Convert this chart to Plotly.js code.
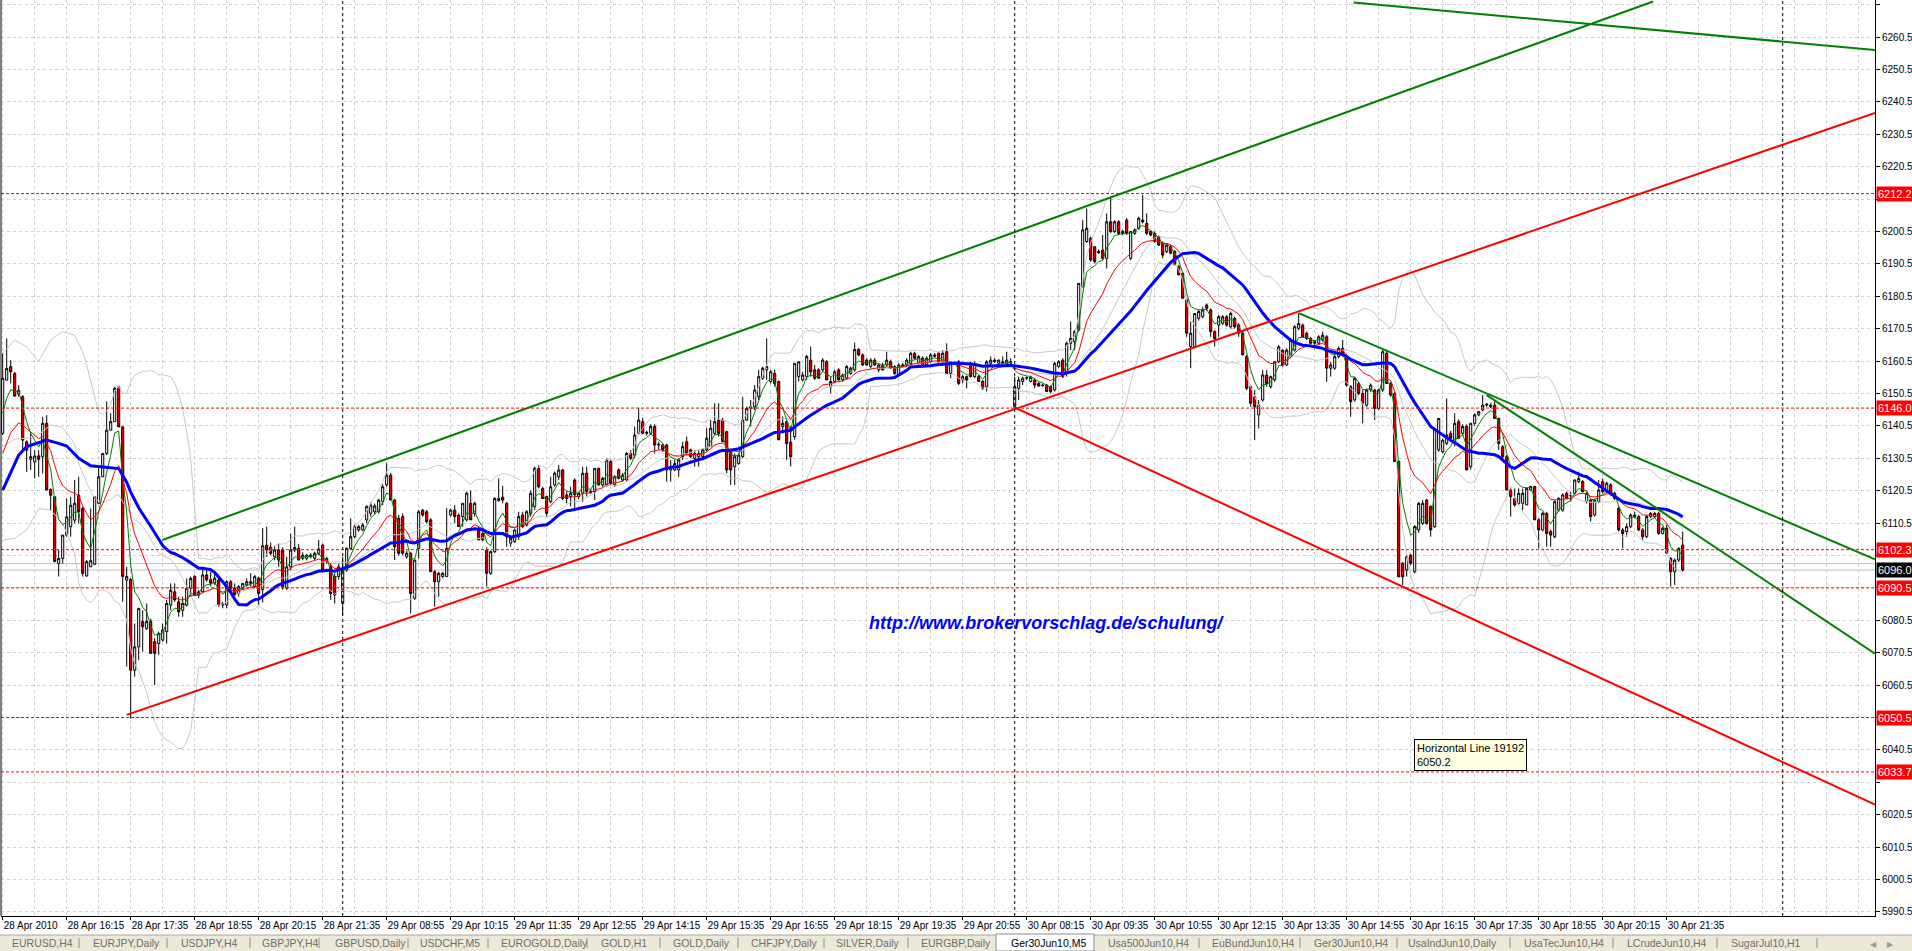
<!DOCTYPE html>
<html><head><meta charset="utf-8">
<script src="https://cdn.plot.ly/plotly-3.0.1.min.js"></script>
<style>html,body{margin:0;padding:0;background:#fff;overflow:hidden}#chart{width:1912px;height:951px}</style>
</head><body><div id="chart"></div>
<script>
// ---------------- DATA ----------------
const timeLabels = ["28 Apr 2010","28 Apr 16:15","28 Apr 17:35","28 Apr 18:55","28 Apr 20:15","28 Apr 21:35",
 "29 Apr 08:55","29 Apr 10:15","29 Apr 11:35","29 Apr 12:55","29 Apr 14:15","29 Apr 15:35","29 Apr 16:55",
 "29 Apr 18:15","29 Apr 19:35","29 Apr 20:55","30 Apr 08:15","30 Apr 09:35","30 Apr 10:55","30 Apr 12:15",
 "30 Apr 13:35","30 Apr 14:55","30 Apr 16:15","30 Apr 17:35","30 Apr 18:55","30 Apr 20:15","30 Apr 21:35"];
const barsPerLabel = 16;

const openP = [
6138.2,6154.6,6158.8,6156.7,6150.3,6149.5,6135.6,6130.2,6129.4,6131.3,
6131.0,6141.3,6120.9,6118.6,6098.0,6099.6,6106.8,6109.4,6111.4,6119.1,
6115.0,6094.2,6097.0,6097.8,6116.6,6124.8,6132.0,6139.2,6141.8,6152.6,
6140.2,6092.9,6093.1,6065.1,6072.3,6080.1,6078.0,6080.1,6073.9,6073.3,
6074.4,6077.0,6085.2,6089.3,6086.2,6083.6,6085.2,6090.4,6094.0,6088.3,
6089.3,6094.5,6093.0,6092.0,6092.9,6085.2,6085.2,6092.4,6090.4,6088.8,
6090.4,6091.4,6091.9,6090.9,6093.5,6090.0,6103.7,6103.0,6100.1,6102.2,
6102.2,6090.4,6097.0,6102.2,6102.7,6099.6,6099.6,6100.6,6099.6,6101.2,
6103.7,6098.6,6097.0,6094.0,6094.0,6085.7,6096.0,6102.7,6106.3,6108.4,
6108.4,6111.5,6113.5,6114.0,6114.0,6117.1,6122.3,6125.3,6117.6,6112.0,
6112.5,6100.1,6101.2,6087.3,6102.7,6114.5,6114.0,6111.5,6095.5,6092.4,
6094.0,6094.0,6113.0,6114.5,6113.0,6112.5,6111.5,6116.6,6113.5,6108.4,
6107.3,6102.2,6095.0,6101.7,6117.4,6118.5,6116.6,6104.3,6104.8,6106.3,
6113.0,6109.9,6113.5,6115.6,6127.4,6121.2,6118.7,6117.1,6122.3,6124.8,
6126.9,6119.2,6118.7,6123.8,6118.7,6119.7,6125.9,6120.2,6120.2,6127.4,
6122.3,6122.3,6129.5,6122.3,6126.9,6123.8,6123.8,6132.0,6131.5,6138.2,
6141.8,6138.2,6138.2,6140.3,6134.6,6134.6,6134.6,6126.9,6126.9,6126.9,
6131.0,6135.6,6133.1,6130.5,6131.0,6131.0,6133.1,6134.1,6138.2,6142.3,
6142.3,6138.7,6133.1,6127.9,6128.9,6131.0,6142.3,6145.9,6146.4,6149.5,
6155.2,6157.8,6154.2,6156.7,6154.2,6140.3,6141.8,6135.5,6137.2,6155.7,
6154.7,6155.7,6160.8,6157.8,6157.8,6157.8,6160.3,6152.6,6154.2,6157.8,
6154.7,6155.2,6156.7,6157.8,6164.1,6162.4,6160.8,6158.8,6160.8,6157.8,
6159.3,6159.3,6160.3,6158.8,6156.2,6159.0,6159.3,6159.8,6162.9,6159.8,
6161.4,6159.3,6160.3,6162.4,6162.9,6160.3,6163.4,6156.7,6159.8,6160.3,
6154.7,6155.7,6159.8,6155.7,6155.7,6154.2,6152.6,6159.8,6160.3,6159.8,
6160.3,6159.6,6160.0,6146.4,6152.1,6154.2,6155.2,6154.2,6154.7,6153.6,
6153.1,6153.1,6152.6,6151.6,6158.8,6160.8,6156.7,6166.0,6166.5,6170.1,
6183.5,6197.4,6198.4,6195.8,6194.3,6194.8,6192.2,6203.5,6200.5,6203.5,
6199.9,6204.0,6192.2,6199.9,6201.5,6204.0,6203.0,6200.5,6199.9,6198.9,
6196.9,6194.3,6195.8,6194.3,6189.6,6187.6,6179.4,6165.0,6165.0,6173.7,
6174.2,6177.8,6176.3,6169.6,6171.6,6172.2,6174.2,6171.1,6173.7,6171.6,
6169.1,6161.9,6152.6,6149.5,6143.9,6148.5,6156.2,6152.6,6154.7,6160.3,
6163.9,6159.3,6161.9,6163.9,6170.6,6171.6,6169.1,6167.5,6166.5,6166.0,
6167.0,6168.0,6158.3,6158.3,6161.9,6164.4,6161.9,6152.6,6148.5,6153.6,
6150.5,6146.9,6151.6,6151.6,6145.9,6151.6,6162.9,6153.6,6150.5,6129.5,
6098.1,6096.0,6100.6,6095.5,6108.4,6110.4,6117.6,6115.6,6109.4,6133.1,
6132.5,6135.1,6138.2,6135.1,6141.8,6138.2,6140.3,6127.9,6141.3,6143.9,
6145.4,6146.9,6146.4,6146.9,6142.8,6134.1,6131.0,6120.7,6118.1,6116.6,
6116.6,6116.1,6120.7,6121.8,6111.5,6108.4,6113.5,6107.9,6106.3,6114.5,
6114.5,6119.7,6118.9,6119.7,6123.3,6123.3,6117.1,6117.6,6113.0,6117.1,
6123.3,6120.2,6122.3,6119.7,6115.0,6108.4,6107.9,6109.4,6112.5,6112.5,
6108.4,6106.3,6112.5,6112.5,6113.5,6107.3,6108.9,6099.6,6095.5,6099.1,
6103.7];

const highP = [
6162.9,6167.5,6160.8,6157.2,6153.1,6150.0,6136.0,6138.2,6133.0,6133.0,
6143.3,6143.8,6121.2,6118.8,6102.2,6106.8,6118.1,6118.6,6123.8,6124.8,
6115.5,6099.1,6115.0,6118.6,6127.9,6132.0,6148.0,6144.4,6152.6,6152.9,
6140.2,6097.0,6093.5,6079.5,6084.2,6083.6,6085.7,6081.0,6075.0,6077.0,
6079.5,6086.8,6091.9,6091.9,6087.8,6087.8,6093.4,6094.0,6094.5,6089.8,
6097.0,6096.0,6095.5,6095.5,6094.0,6086.2,6092.9,6093.0,6091.9,6091.4,
6092.0,6093.4,6095.0,6094.5,6093.9,6109.0,6109.4,6104.5,6103.5,6104.2,
6103.0,6100.1,6107.3,6109.4,6104.0,6101.5,6101.0,6101.2,6101.7,6105.3,
6104.2,6100.1,6098.1,6095.0,6098.0,6100.1,6103.0,6112.0,6110.0,6110.0,
6110.5,6116.0,6117.0,6116.5,6118.0,6122.5,6129.0,6126.0,6118.0,6113.0,
6113.5,6102.0,6101.5,6099.1,6114.5,6114.8,6114.5,6112.0,6096.0,6095.5,
6095.5,6115.1,6115.0,6116.1,6113.5,6116.6,6120.2,6120.5,6117.1,6109.5,
6108.0,6103.0,6102.0,6118.5,6124.3,6122.0,6117.0,6106.3,6108.9,6114.0,
6114.0,6114.5,6120.5,6127.9,6128.4,6121.7,6119.0,6124.8,6126.4,6128.4,
6127.2,6120.2,6121.7,6124.3,6120.2,6127.9,6127.9,6121.0,6127.4,6127.6,
6124.8,6130.5,6130.0,6125.3,6127.4,6126.0,6132.5,6133.0,6140.3,6146.1,
6143.0,6139.0,6141.0,6141.0,6135.6,6135.0,6135.0,6130.0,6130.0,6130.5,
6135.6,6137.2,6133.5,6133.1,6133.1,6133.5,6139.8,6142.3,6147.5,6147.5,
6143.0,6139.0,6133.5,6132.0,6132.0,6149.5,6146.4,6148.5,6153.1,6157.8,
6158.8,6167.5,6157.8,6157.8,6154.5,6143.4,6142.0,6140.5,6159.8,6160.3,
6157.2,6162.4,6165.0,6159.3,6158.3,6161.4,6160.8,6155.7,6157.8,6158.3,
6156.7,6159.3,6158.8,6166.2,6164.5,6162.9,6161.4,6161.4,6161.4,6159.8,
6160.0,6163.4,6161.0,6159.3,6159.8,6160.0,6161.4,6163.4,6163.4,6162.4,
6162.0,6162.0,6163.0,6163.0,6163.4,6163.9,6166.0,6160.3,6160.3,6160.8,
6156.2,6156.0,6160.3,6160.3,6156.2,6154.7,6160.8,6161.9,6161.4,6161.0,
6161.9,6163.4,6161.4,6155.7,6155.7,6155.7,6155.7,6156.0,6155.2,6154.0,
6153.6,6153.5,6153.0,6160.3,6160.8,6161.4,6166.5,6172.7,6170.1,6184.5,
6204.0,6207.6,6198.9,6196.0,6195.0,6199.4,6206.1,6211.3,6204.0,6204.0,
6201.0,6204.6,6200.5,6201.5,6205.1,6211.8,6206.1,6201.0,6200.5,6199.4,
6197.4,6196.9,6196.3,6194.8,6190.2,6188.0,6179.9,6172.7,6175.2,6176.3,
6177.3,6178.3,6176.8,6170.1,6174.7,6174.7,6174.7,6175.8,6174.2,6172.2,
6169.6,6162.4,6153.0,6151.6,6148.5,6157.8,6157.8,6156.0,6160.3,6165.5,
6164.0,6164.5,6167.5,6171.6,6175.2,6172.1,6169.6,6168.0,6167.0,6168.5,
6169.6,6168.5,6160.3,6162.4,6165.0,6167.0,6162.4,6153.1,6155.7,6154.1,
6151.6,6152.0,6153.6,6152.0,6152.0,6164.0,6164.0,6154.1,6151.0,6130.0,
6098.5,6100.6,6101.0,6109.9,6117.0,6117.6,6118.0,6116.0,6140.0,6142.8,
6136.5,6149.0,6139.0,6144.4,6142.5,6141.0,6141.0,6141.3,6144.4,6145.0,
6150.0,6147.5,6147.5,6148.5,6143.0,6134.6,6131.5,6121.2,6121.2,6121.2,
6121.2,6121.2,6122.0,6122.0,6112.0,6114.0,6114.0,6108.5,6117.6,6118.5,
6119.7,6120.2,6120.2,6124.0,6126.4,6123.8,6120.2,6118.0,6118.0,6123.8,
6124.3,6123.3,6122.8,6120.2,6115.6,6109.0,6110.4,6113.5,6114.0,6113.0,
6109.0,6113.0,6114.0,6114.0,6114.0,6109.4,6110.0,6100.0,6099.6,6103.0,
6107.9];

const lowP = [
6137.7,6154.6,6153.6,6149.5,6149.5,6133.0,6126.3,6126.9,6124.3,6124.8,
6125.8,6120.7,6114.5,6098.6,6094.0,6098.0,6106.3,6106.3,6110.4,6110.4,
6094.0,6094.0,6097.0,6097.5,6116.6,6124.8,6131.5,6139.2,6141.8,6140.2,
6086.2,6066.2,6050.2,6063.1,6068.2,6070.8,6077.5,6070.3,6060.5,6069.8,
6073.9,6073.3,6083.6,6086.2,6081.6,6081.6,6084.7,6087.8,6088.3,6087.3,
6088.8,6092.4,6090.9,6091.4,6084.7,6084.2,6084.2,6090.0,6087.8,6087.8,
6089.8,6091.0,6090.9,6090.4,6085.2,6086.0,6100.1,6100.5,6099.0,6097.0,
6089.9,6089.9,6096.0,6101.5,6099.1,6099.0,6099.0,6099.6,6099.0,6100.6,
6096.0,6098.0,6086.8,6085.7,6093.0,6082.1,6095.5,6102.2,6105.8,6107.8,
6108.0,6110.5,6112.5,6113.0,6113.5,6116.0,6121.7,6117.6,6099.1,6100.5,
6100.5,6099.5,6082.6,6086.8,6099.6,6112.5,6110.4,6095.5,6084.7,6087.8,
6093.5,6094.0,6112.5,6110.4,6109.4,6109.4,6111.0,6111.5,6112.5,6105.3,
6105.0,6090.9,6094.5,6101.2,6117.1,6116.6,6103.2,6103.2,6104.3,6105.3,
6108.9,6109.4,6112.5,6114.5,6121.2,6118.0,6112.5,6116.6,6121.7,6123.8,
6117.6,6116.6,6115.6,6115.1,6118.0,6117.1,6118.7,6119.5,6117.6,6122.0,
6121.7,6121.7,6122.3,6121.7,6124.0,6123.3,6123.3,6130.0,6130.5,6137.7,
6138.0,6137.5,6137.7,6132.0,6133.1,6132.5,6123.3,6123.3,6126.5,6124.8,
6130.0,6131.5,6130.5,6127.9,6127.9,6130.5,6132.5,6134.1,6137.7,6137.2,
6135.6,6125.9,6122.3,6122.3,6128.5,6130.5,6142.0,6140.3,6145.4,6148.5,
6154.7,6154.7,6153.6,6152.6,6136.2,6138.2,6130.0,6128.0,6136.2,6154.2,
6154.2,6154.7,6155.7,6154.7,6155.0,6157.2,6154.7,6150.6,6153.6,6154.5,
6154.2,6154.7,6156.2,6157.2,6162.0,6159.0,6159.0,6158.3,6159.0,6157.0,
6157.5,6158.8,6158.0,6156.2,6155.7,6158.5,6158.8,6158.8,6161.0,6159.3,
6158.5,6158.8,6159.8,6161.5,6159.3,6159.8,6156.7,6155.2,6159.3,6153.1,
6153.6,6152.1,6155.5,6155.2,6154.0,6151.6,6151.1,6159.3,6160.0,6159.5,
6158.8,6158.8,6158.8,6145.4,6148.5,6153.1,6154.7,6154.0,6152.1,6152.6,
6152.6,6151.1,6150.5,6151.1,6158.5,6155.2,6155.7,6163.9,6163.9,6169.6,
6183.0,6197.0,6191.2,6190.7,6193.5,6191.7,6189.1,6200.0,6200.0,6199.4,
6199.4,6199.4,6191.7,6199.4,6201.0,6203.0,6199.4,6199.0,6197.0,6196.0,
6192.2,6193.8,6193.5,6190.2,6187.1,6179.9,6168.0,6158.3,6164.5,6173.0,
6173.7,6176.0,6168.0,6165.0,6168.0,6171.6,6171.1,6170.5,6170.5,6168.0,
6162.4,6151.5,6146.4,6136.1,6139.7,6148.0,6152.6,6152.0,6154.1,6159.8,
6158.8,6159.0,6161.4,6163.4,6170.0,6168.0,6167.0,6165.5,6165.5,6165.5,
6166.5,6154.1,6155.7,6157.8,6161.4,6161.9,6152.6,6143.3,6148.0,6150.0,
6141.3,6146.4,6151.0,6142.3,6145.4,6151.0,6153.6,6149.5,6129.5,6093.9,
6091.4,6094.0,6097.5,6095.0,6107.5,6109.9,6110.0,6106.3,6109.0,6132.5,
6132.0,6134.5,6136.0,6134.1,6136.7,6137.5,6126.9,6127.0,6140.5,6143.5,
6145.0,6146.4,6146.0,6142.8,6133.1,6130.0,6120.7,6112.5,6115.6,6116.1,
6114.5,6116.1,6120.5,6111.5,6102.7,6107.9,6103.2,6103.2,6105.8,6114.0,
6114.0,6118.0,6117.1,6119.2,6122.8,6120.0,6116.6,6111.0,6112.5,6116.6,
6119.7,6119.7,6119.0,6117.6,6107.9,6102.7,6106.3,6108.9,6112.0,6108.0,
6105.3,6105.8,6112.0,6112.0,6106.8,6107.0,6101.2,6090.9,6091.4,6098.5,
6095.5];

const closeP = [
6155.2,6158.2,6157.2,6149.7,6151.5,6136.1,6133.0,6131.0,6131.2,6130.2,
6141.3,6120.7,6119.1,6098.6,6099.6,6106.8,6112.4,6116.0,6116.6,6114.0,
6095.0,6098.6,6098.9,6118.6,6124.8,6132.0,6139.2,6141.8,6152.1,6140.2,
6094.0,6094.0,6065.1,6072.3,6084.2,6078.5,6080.1,6070.3,6070.3,6076.4,
6077.5,6085.7,6089.8,6086.8,6083.1,6085.7,6090.4,6093.4,6088.3,6089.3,
6094.5,6093.0,6092.0,6093.5,6085.2,6085.7,6092.4,6090.4,6088.3,6090.9,
6091.9,6092.4,6092.4,6094.0,6088.8,6103.5,6102.2,6101.2,6102.2,6099.1,
6090.9,6097.0,6102.2,6103.0,6099.1,6100.6,6100.6,6100.1,6101.2,6102.5,
6096.0,6099.6,6088.8,6088.3,6097.0,6096.0,6102.7,6106.3,6109.4,6109.4,
6109.9,6115.6,6116.1,6115.8,6117.6,6121.7,6125.3,6117.6,6103.2,6101.2,
6101.2,6101.2,6088.8,6099.1,6114.0,6113.0,6110.9,6095.5,6092.4,6095.0,
6095.0,6102.7,6114.5,6112.5,6109.4,6116.6,6119.7,6111.5,6116.6,6105.3,
6105.3,6095.0,6101.7,6118.1,6118.1,6117.6,6106.3,6105.8,6108.4,6112.5,
6109.4,6114.0,6119.7,6127.4,6121.7,6118.1,6113.5,6121.7,6125.9,6126.9,
6118.1,6118.1,6119.7,6119.2,6119.7,6125.9,6120.2,6120.0,6127.4,6122.3,
6124.3,6130.0,6122.8,6124.8,6124.3,6125.3,6132.0,6130.5,6137.7,6142.3,
6138.2,6138.5,6140.3,6134.6,6134.8,6133.1,6126.9,6127.9,6128.9,6130.0,
6134.1,6132.0,6131.0,6132.0,6132.0,6133.1,6136.7,6139.8,6141.8,6138.2,
6135.6,6126.9,6126.9,6131.0,6131.5,6142.3,6145.9,6146.4,6151.6,6155.7,
6158.3,6158.8,6157.2,6153.6,6136.2,6141.3,6135.0,6131.0,6159.8,6160.3,
6156.2,6161.9,6157.2,6155.2,6155.2,6160.8,6154.7,6154.2,6157.2,6154.7,
6156.2,6158.8,6158.3,6164.1,6162.4,6159.3,6159.3,6160.8,6159.3,6159.3,
6157.8,6160.8,6158.3,6156.7,6159.3,6159.3,6160.8,6162.9,6161.4,6161.9,
6158.8,6161.4,6162.4,6162.0,6159.8,6162.9,6156.7,6159.8,6160.0,6153.6,
6155.7,6154.7,6155.7,6159.8,6154.2,6152.1,6160.3,6160.8,6160.8,6160.8,
6160.0,6160.8,6160.3,6152.6,6154.7,6155.2,6155.4,6155.5,6153.1,6152.8,
6153.0,6151.1,6151.1,6159.8,6160.3,6155.7,6166.0,6167.5,6169.6,6184.5,
6201.0,6201.5,6191.7,6191.2,6194.0,6192.2,6203.5,6200.5,6203.5,6199.9,
6200.5,6199.9,6200.5,6201.0,6204.6,6203.5,6199.9,6199.4,6197.4,6196.3,
6193.2,6196.3,6193.8,6190.2,6187.1,6179.9,6169.1,6169.1,6175.2,6175.8,
6176.3,6176.8,6169.6,6167.5,6174.2,6174.2,6171.6,6175.2,6171.1,6169.1,
6162.4,6152.1,6147.5,6146.4,6146.9,6156.2,6153.6,6155.7,6160.3,6164.9,
6159.3,6163.9,6167.0,6171.1,6172.1,6168.0,6167.5,6166.0,6166.0,6168.0,
6168.5,6158.3,6159.3,6161.9,6164.4,6162.4,6153.1,6148.0,6155.2,6150.5,
6147.5,6151.6,6153.1,6145.9,6151.6,6163.4,6153.6,6150.0,6129.5,6093.9,
6093.9,6100.1,6098.1,6109.4,6116.6,6116.6,6110.4,6108.4,6139.7,6142.8,
6136.1,6137.7,6136.7,6141.3,6136.7,6140.3,6126.9,6141.3,6143.9,6144.9,
6146.9,6147.2,6146.9,6142.8,6135.1,6131.0,6120.7,6118.7,6116.1,6119.7,
6119.7,6121.2,6121.8,6111.5,6108.4,6113.5,6107.3,6106.8,6117.1,6118.1,
6119.2,6118.1,6119.0,6123.8,6124.3,6120.2,6119.7,6112.5,6117.6,6120.7,
6120.2,6122.8,6119.7,6118.1,6108.4,6107.3,6109.4,6113.0,6113.0,6108.4,
6106.3,6112.5,6113.5,6113.5,6107.3,6108.9,6101.2,6095.5,6099.1,6102.7,
6096.0];

// indicator lines over the first bars
const fastMaStart = 6144.4, midMaStart = 6132.0;
const fastMaPeriod = 5, midMaPeriod = 14, slowMaPeriod = 30, bandPeriod = 20, bandDev = 2;
const slowMaHeadBars = [0, 4, 6, 8, 11, 14, 16, 19, 22];
const slowMaHead     = [6120.7, 6131.5, 6134.1, 6134.9, 6136.1, 6135.1, 6134.3, 6130.5, 6128.2];
const bandHeadBars  = [0, 3, 6, 9, 12, 15, 18];
const bandHeadUpper = [6162.9, 6167.0, 6164.9, 6160.5, 6167.0, 6169.6, 6168.5];
const bandHeadMid   = [6134.1, 6136.4, 6136.7, 6137.8, 6140.8, 6140.0, 6134.9];
const bandHeadLower = [6105.3, 6105.8, 6108.4, 6115.0, 6114.5, 6110.4, 6101.2];

// horizontal lines, bid/ask, separators
const levelPrices = [6212.2, 6146.0, 6102.3, 6090.5, 6050.5, 6033.7];
const bidPrice = 6096.0, askPrice = 6098.0;
const separatorBars = [85, 253, 445];

// trend lines (bar index, price) end points
const greenChannelX = [39.9, 412.6],  greenChannelY = [6105.3, 6271.5];
const greenTopX     = [337.7, 468.1], greenTopY     = [6271.2, 6256.5];
const redChannelX   = [31.0, 468.1],  redChannelY   = [6051.3, 6237.1];
const redDownX      = [252.9, 468.1], redDownY      = [6146.2, 6023.6];
const greenDownAX   = [324.0, 468.1], greenDownAY   = [6175.3, 6099.3];
const greenDownBX   = [371.0, 468.1], greenDownBY   = [6150.0, 6070.2];

const priceTicks = []; for (let p = 5990.5; p <= 6270.6; p += 10) priceTicks.push(+p.toFixed(1));

const tabNames = ["EURUSD,H4","EURJPY,Daily","USDJPY,H4","GBPJPY,H4","GBPUSD,Daily","USDCHF,M5","EUROGOLD,Daily",
 "GOLD,H1","GOLD,Daily","CHFJPY,Daily","SILVER,Daily","EURGBP,Daily","Ger30Jun10,M5","Usa500Jun10,H4",
 "EuBundJun10,H4","Ger30Jun10,H4","UsaIndJun10,Daily","UsaTecJun10,H4","LCrudeJun10,H4","SugarJul10,H1"];
const activeTab = 12;

// ---------------- LAYOUT GEOMETRY ----------------
const W = 1912, H = 951, ML = 1, MR = 37, MT = 0, MB = 35;
const PW = W - ML - MR, PH = H - MT - MB;
const xp = px => (px - ML) / PW;
const yp = py => (PH + MT - py) / PH;
const tabLeft = [10, 91, 179, 260, 333, 418, 499, 599, 671, 749, 834, 919, 1009, 1106, 1210, 1312, 1406, 1522, 1625, 1729];
const tabSeps = [79, 167, 250, 319, 408, 488, 587, 660, 738, 824, 908, 1199, 1300, 1397, 1510, 1613, 1717, 1817];

// ---------------- INDICATORS ----------------
const N = closeP.length;
const barX = closeP.map((_, i) => i);
function ema(src, period, start) {
  const a = 2 / (period + 1); let v = start;
  return src.map((c, i) => { if (i > 0) v = v + a * (c - v); return v; });
}
const fastMa = ema(closeP, fastMaPeriod, fastMaStart);
const midMa = ema(closeP, midMaPeriod, midMaStart);
const slowX = slowMaHeadBars.slice(), slowY = slowMaHead.slice();
for (let i = slowMaPeriod - 1; i < N; i++) {
  let s = 0; for (let j = i - slowMaPeriod + 1; j <= i; j++) s += closeP[j];
  slowX.push(i); slowY.push(s / slowMaPeriod);
}
const bbX = bandHeadBars.slice(), bbU = bandHeadUpper.slice(), bbM = bandHeadMid.slice(), bbL = bandHeadLower.slice();
for (let i = bandPeriod - 1; i < N; i++) {
  const w = closeP.slice(i - bandPeriod + 1, i + 1);
  const m = w.reduce((s, v) => s + v, 0) / w.length;
  const sd = Math.sqrt(w.reduce((s, v) => s + (v - m) * (v - m), 0) / w.length);
  bbX.push(i); bbU.push(m + bandDev * sd); bbM.push(m); bbL.push(m - bandDev * sd);
}

const gray = '#c8c8c8';
const traces = [
  {type:'scatter', mode:'lines', x:bbX, y:bbU, line:{color:gray, width:1}, hoverinfo:'skip'},
  {type:'scatter', mode:'lines', x:bbX, y:bbM, line:{color:gray, width:1}, hoverinfo:'skip'},
  {type:'scatter', mode:'lines', x:bbX, y:bbL, line:{color:gray, width:1}, hoverinfo:'skip'},
  {type:'candlestick', x:barX, open:openP, high:highP, low:lowP, close:closeP, whiskerwidth:0,
   increasing:{line:{color:'#000000', width:1}, fillcolor:'#ffffff'},
   decreasing:{line:{color:'#000000', width:1}, fillcolor:'#ff0000'}, hoverinfo:'skip'},
  {type:'scatter', mode:'lines', x:barX, y:fastMa, line:{color:'#008000', width:1}, hoverinfo:'skip'},
  {type:'scatter', mode:'lines', x:barX, y:midMa, line:{color:'#ff0000', width:1}, hoverinfo:'skip'},
  {type:'scatter', mode:'lines', x:slowX, y:slowY, line:{color:'#0000ff', width:3}, hoverinfo:'skip'},
  {type:'scatter', mode:'lines', x:greenChannelX, y:greenChannelY, line:{color:'#008000', width:2}, hoverinfo:'skip'},
  {type:'scatter', mode:'lines', x:greenTopX, y:greenTopY, line:{color:'#008000', width:2}, hoverinfo:'skip'},
  {type:'scatter', mode:'lines', x:redChannelX, y:redChannelY, line:{color:'#ff0000', width:2}, hoverinfo:'skip'},
  {type:'scatter', mode:'lines', x:redDownX, y:redDownY, line:{color:'#ff0000', width:2}, hoverinfo:'skip'},
  {type:'scatter', mode:'lines', x:greenDownAX, y:greenDownAY, line:{color:'#008000', width:2}, hoverinfo:'skip'},
  {type:'scatter', mode:'lines', x:greenDownBX, y:greenDownBY, line:{color:'#008000', width:2}, hoverinfo:'skip'}
];

const shapes = [];
[askPrice, bidPrice].forEach(p => shapes.push({type:'line', xref:'paper', x0:0, x1:1, yref:'y', y0:p, y1:p, line:{color:'#c0c0c0', width:1}, layer:'below'}));
levelPrices.forEach(p => shapes.push({type:'line', xref:'paper', x0:0, x1:1, yref:'y', y0:p, y1:p, line:{color:'#ff0000', width:1, dash:'3px,2px'}}));
separatorBars.forEach(b => shapes.push({type:'line', xref:'x', x0:b, x1:b, yref:'paper', y0:0, y1:1, line:{color:'#000000', width:1, dash:'3px,3px'}}));
shapes.push({type:'line', xref:'paper', x0:0, x1:0, yref:'paper', y0:0, y1:1, line:{color:'#000', width:1}});
// tab bar
shapes.push({type:'rect', xref:'paper', yref:'paper', x0:xp(0), x1:xp(W), y0:yp(H), y1:yp(935), fillcolor:'#ece9d8', line:{width:0}, layer:'below'});
shapes.push({type:'line', xref:'paper', yref:'paper', x0:xp(0), x1:xp(W), y0:yp(935), y1:yp(935), line:{color:'#aca899', width:1}});
tabSeps.forEach(s => shapes.push({type:'line', xref:'paper', yref:'paper', x0:xp(s), x1:xp(s), y0:yp(948), y1:yp(938), line:{color:'#8c8c8c', width:1}}));
shapes.push({type:'rect', xref:'paper', yref:'paper', x0:xp(996), x1:xp(1094), y0:yp(951), y1:yp(934), fillcolor:'#ffffff', line:{color:'#8c8c8c', width:1}});

const annotations = [];
const fontFam = 'Liberation Sans, Arial, sans-serif';
levelPrices.forEach(p => annotations.push({xref:'paper', x:1, xanchor:'left', xshift:1, yref:'y', y:p, yanchor:'middle',
  text:p.toFixed(1), showarrow:false, bgcolor:'#ff0000', font:{family:fontFam, size:11, color:'#ffffff'}, borderpad:1}));
annotations.push({xref:'paper', x:1, xanchor:'left', xshift:1, yref:'y', y:bidPrice, yanchor:'middle',
  text:bidPrice.toFixed(1), showarrow:false, bgcolor:'#000000', font:{family:fontFam, size:11, color:'#ffffff'}, borderpad:1});
annotations.push({xref:'paper', yref:'paper', x:xp(1046), y:yp(623), xanchor:'center', yanchor:'middle', showarrow:false,
  text:'<b><i>http://www.brokervorschlag.de/schulung/</i></b>', font:{family:fontFam, size:18, color:'#0000ff'}});
annotations.push({xref:'paper', yref:'paper', x:xp(1414), y:yp(739), xanchor:'left', yanchor:'top', showarrow:false, align:'left',
  text:'Horizontal Line 19192<br>6050.2', font:{family:fontFam, size:11, color:'#000'}, bgcolor:'#ffffe1', bordercolor:'#000', borderwidth:1, borderpad:2});
tabNames.forEach((t, k) => annotations.push({xref:'paper', yref:'paper', x:xp(tabLeft[k]), y:yp(943), xanchor:'left', yanchor:'middle',
  showarrow:false, text:t, font:{family:fontFam, size:10.5, color: k === activeTab ? '#000000' : '#6d6d6d'}}));
annotations.push({xref:'paper', yref:'paper', x:xp(1873), y:yp(943), xanchor:'center', yanchor:'middle', showarrow:false, text:'◀', font:{size:8, color:'#9a9a9a'}});
annotations.push({xref:'paper', yref:'paper', x:xp(1890), y:yp(943), xanchor:'center', yanchor:'middle', showarrow:false, text:'▶', font:{size:8, color:'#9a9a9a'}});

const pxPerBar = 4, firstBarPx = 2.7;
const x0 = -(firstBarPx - ML) / pxPerBar, x1 = x0 + PW / pxPerBar;
const pxPerPoint = 3.24, topGridPx = 4.7, topGridPrice = 6270.5;
const yTop = topGridPrice + (topGridPx - MT) / pxPerPoint, yBot = yTop - PH / pxPerPoint;
const coveredTick = p => levelPrices.concat([bidPrice]).some(l => Math.abs(l - p) < 3.2);

const layout = {
  width:W, height:H, margin:{l:ML, r:MR, t:MT, b:MB, pad:0},
  paper_bgcolor:'#ffffff', plot_bgcolor:'#ffffff', showlegend:false, boxgap:0.25,
  xaxis:{range:[x0, x1], tickmode:'array', tickvals:timeLabels.map((_, k) => k * barsPerLabel), ticktext:timeLabels,
    ticklabelposition:'outside right', tickangle:0, ticks:'outside', ticklen:3, tickcolor:'#000', showline:true, linecolor:'#000', linewidth:1,
    showgrid:true, gridcolor:'#cfcfcf', griddash:'3px,3px', gridwidth:1, zeroline:false, fixedrange:true,
    minor:{tickmode:'linear', tick0:0, dtick:8, showgrid:true, gridcolor:'#cfcfcf', griddash:'3px,3px', ticks:''},
    rangeslider:{visible:false}, tickfont:{family:fontFam, size:10, color:'#000'}},
  yaxis:{side:'right', range:[yBot, yTop], tickmode:'array', tickvals:priceTicks,
    ticktext:priceTicks.map(p => coveredTick(p) ? '' : p.toFixed(1)),
    ticks:'outside', ticklen:4, tickcolor:'#000', showline:true, linecolor:'#000', linewidth:1, showgrid:true, gridcolor:'#cfcfcf',
    griddash:'3px,3px', zeroline:false, fixedrange:true, tickfont:{family:fontFam, size:10, color:'#000'}},
  shapes, annotations
};
Plotly.newPlot('chart', traces, layout, {staticPlot:true, displayModeBar:false});
</script></body></html>
